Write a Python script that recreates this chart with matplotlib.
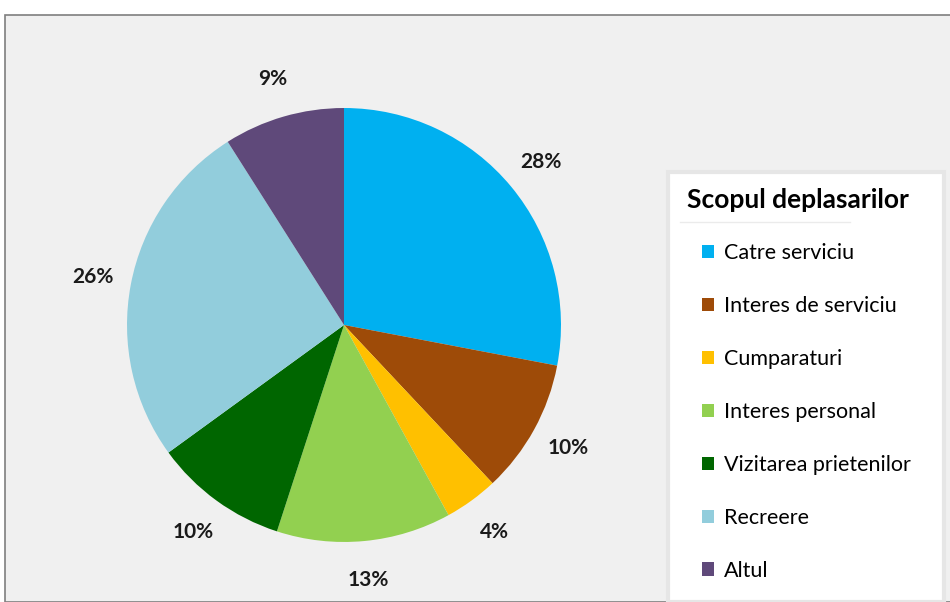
import matplotlib.pyplot as plt
from matplotlib.patches import Rectangle, Patch

# Trip purposes and their shares (%)
categories = ["Catre serviciu", "Interes de serviciu", "Cumparaturi", "Interes personal",
              "Vizitarea prietenilor", "Recreere", "Altul"]
shares = [28, 10, 4, 13, 10, 26, 9]
colors = ["#00B0F0", "#9E4B08", "#FFC000", "#92D050", "#006600", "#92CDDC", "#5F497A"]
legend_title = "Scopul deplasarilor"

plt.rcParams['font.family'] = ['Lato', 'DejaVu Sans']

fig = plt.figure(figsize=(9.5, 6.02), dpi=100, facecolor="white")

# chart area background with thin gray border
W, H = 950, 602
fig.patches.append(Rectangle((5 / W, 0), 1.0, 1 - 15 / H, transform=fig.transFigure,
                             facecolor="#f0f0f0", edgecolor="#7f7f7f", linewidth=1.2,
                             zorder=0))
# white legend panel
fig.patches.append(Rectangle((668 / W, 0.0), (944 - 668) / W, 1 - 172 / H,
                             transform=fig.transFigure, facecolor="white",
                             edgecolor="#e6e6e6", linewidth=3, zorder=0))

ax = fig.add_axes([0.1337, 0.0997, 0.4568, 0.7209])
ax.set_zorder(2)
ax.set_facecolor("none")
wedges, _, autotexts = ax.pie(shares, colors=colors, startangle=90, counterclock=False,
                              radius=1.0, autopct=lambda p: f"{p:.0f}%",
                              pctdistance=1.18, wedgeprops=dict(linewidth=0))
for t in autotexts:
    t.set_fontsize(15)
    t.set_fontweight("bold")
    t.set_color("#1a1a1a")
ax.set_xlim(-1, 1)
ax.set_ylim(-1, 1)
ax.set_aspect("equal")
ax.axis("off")

# legend title sits a bit left of the entries
fig.text(687 / W, 1 - 200 / H, legend_title, fontsize=19, fontweight="bold",
         ha="left", va="center", zorder=3)
fig.lines.append(plt.Line2D([680 / W, 850 / W], [1 - 222 / H, 1 - 222 / H],
                            transform=fig.transFigure, color="#ebebeb", linewidth=1))

handles = [Patch(facecolor=c, edgecolor="none") for c in colors]
leg = fig.legend(handles, categories,
                 loc="upper left", bbox_to_anchor=(702 / W, 1 - 243 / H),
                 frameon=False, fontsize=15.5, borderpad=0, borderaxespad=0,
                 handlelength=0.56, handleheight=0.56, handletextpad=0.47,
                 labelspacing=1.53)
leg.set_zorder(3)

fig.savefig("out.png", dpi=100, facecolor="white")
